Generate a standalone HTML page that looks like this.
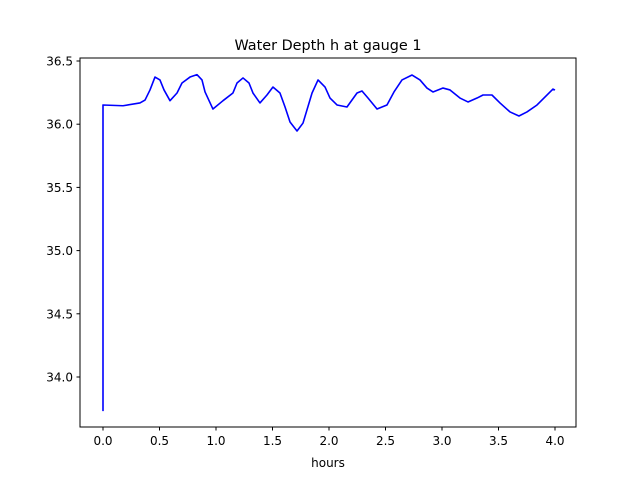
<!DOCTYPE html>
<html><head><meta charset="utf-8"><style>
html,body{margin:0;padding:0;background:#fff;}
svg text{font-family:"DejaVu Sans","Liberation Sans",sans-serif;font-size:12px;fill:#000;}
</style></head><body>
<svg id="chart" width="640" height="480" xmlns="http://www.w3.org/2000/svg">
<rect width="640" height="480" fill="#fff"/>
<text x="328" y="50" text-anchor="middle" style="font-size:14.4px">Water Depth h at gauge 1</text>
<g id="plot"></g>
<rect x="80" y="58" width="496" height="369" fill="none" stroke="#000" stroke-width="1"/>
<text x="328" y="467" text-anchor="middle">hours</text>
</svg>
<script>
const tValues=[0,0,0.177,0.327,0.372,0.416,0.460,0.504,0.540,0.593,0.655,0.699,0.770,0.832,0.876,0.903,0.973,1.062,1.150,1.186,1.239,1.292,1.327,1.389,1.451,1.504,1.566,1.611,1.655,1.717,1.770,1.850,1.903,1.965,2.009,2.071,2.159,2.248,2.292,2.345,2.425,2.513,2.575,2.646,2.735,2.805,2.867,2.920,3.009,3.071,3.159,3.230,3.310,3.363,3.442,3.513,3.602,3.681,3.752,3.841,3.982,4.0];
const hValues=[33.73,36.152,36.146,36.168,36.191,36.271,36.373,36.350,36.271,36.186,36.247,36.326,36.373,36.392,36.350,36.255,36.120,36.186,36.247,36.326,36.366,36.326,36.247,36.168,36.231,36.294,36.247,36.136,36.017,35.946,36.009,36.247,36.350,36.294,36.207,36.152,36.136,36.247,36.263,36.207,36.120,36.152,36.255,36.350,36.389,36.350,36.286,36.255,36.286,36.271,36.207,36.176,36.207,36.231,36.231,36.168,36.097,36.065,36.097,36.152,36.278,36.270];
const xTicks=[0.0,0.5,1.0,1.5,2.0,2.5,3.0,3.5,4.0];
const yTicks=[34.0,34.5,35.0,35.5,36.0,36.5];
const xs=t=>103+t*113;
const ys=h=>61+(36.5-h)*126.4;
const g=document.getElementById('plot');
const NS='http://www.w3.org/2000/svg';
xTicks.forEach(v=>{
 const l=document.createElementNS(NS,'line');
 
 
 l.setAttribute('x1',xs(v));l.setAttribute('x2',xs(v));l.setAttribute('y1',427);l.setAttribute('y2',430.5);l.setAttribute('stroke','#000');
 g.appendChild(l);
 const t=document.createElementNS(NS,'text');
 
 
 t.setAttribute('x',xs(v));t.setAttribute('y',445);t.setAttribute('text-anchor','middle');
 t.textContent=v.toFixed(1);g.appendChild(t);
});
yTicks.forEach(v=>{
 const l=document.createElementNS(NS,'line');
 
 
 l.setAttribute('x1',76.5);l.setAttribute('x2',80);l.setAttribute('y1',ys(v));l.setAttribute('y2',ys(v));l.setAttribute('stroke','#000');
 g.appendChild(l);
 const t=document.createElementNS(NS,'text');
 
 
 t.setAttribute('x',73);t.setAttribute('y',ys(v)+4.5);t.setAttribute('text-anchor','end');
 t.textContent=v.toFixed(1);g.appendChild(t);
});
const p=document.createElementNS(NS,'polyline');


p.setAttribute('points',tValues.map((t,i)=>xs(t)+','+ys(hValues[i])).join(' '));
p.setAttribute('fill','none');p.setAttribute('stroke','#0000ff');p.setAttribute('stroke-width','1.6');p.setAttribute('stroke-linejoin','round');
g.appendChild(p);
</script>
</body></html>
